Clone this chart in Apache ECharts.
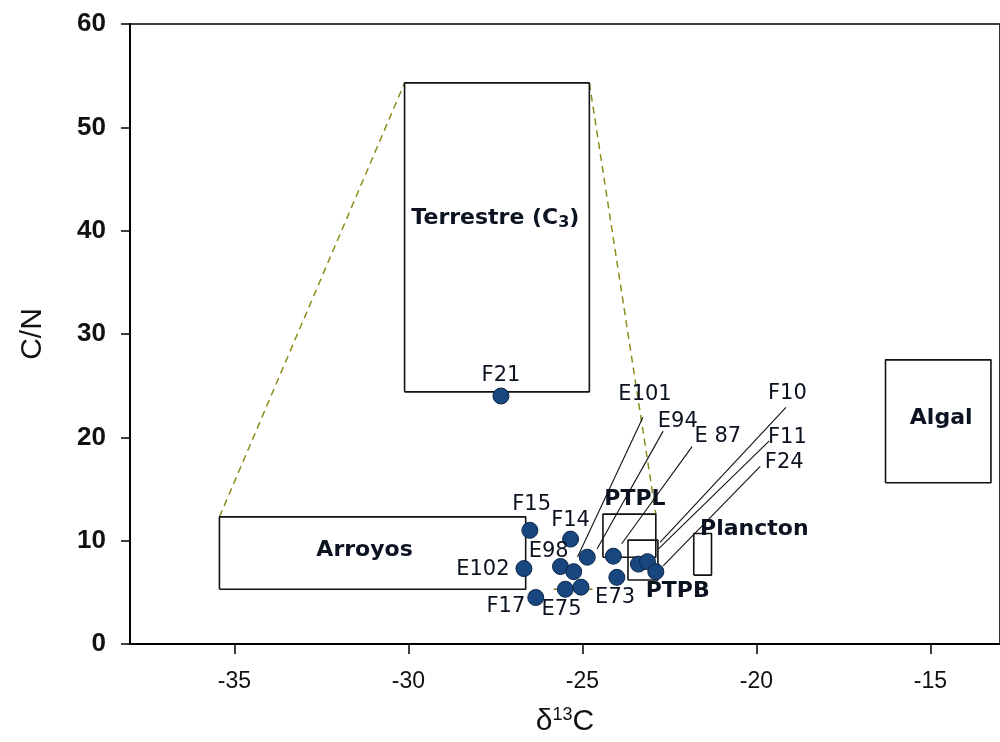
<!DOCTYPE html>
<html lang="en">
<head>
<meta charset="UTF-8">
<title>C/N vs d13C</title>
<script src="https://cdn.jsdelivr.net/npm/echarts@6.0.0/dist/echarts.min.js"></script>
<style>
  html, body { margin: 0; padding: 0; background: #fff; }
</style>
</head>
<body>
<div id="main" style="width:1000px;height:742px;"></div>
<script type="text/javascript">
// sample points (d13C, C/N)
const ptX = [-27.34, -26.51, -25.34, -26.68, -26.34, -25.63, -25.25, -24.86, -25.49, -25.04, -24.11, -24.01, -23.39, -23.13, -22.89];
const ptY = [24.0, 11.0, 10.15, 7.3, 4.5, 7.5, 7.0, 8.4, 5.3, 5.5, 8.5, 6.45, 7.73, 7.97, 7.0];

// sample labels
const lblText = ['F21', 'F15', 'F14', 'E98', 'E102', 'F17', 'E75', 'E73', 'E101', 'E94', 'E 87', 'F10', 'F11', 'F24'];
const lblX = [-27.34, -26.46, -25.34, -25.97, -27.86, -27.2, -25.6, -24.06, -23.2, -22.26, -21.11, -19.11, -19.11, -19.2];
const lblY = [26.0, 13.5, 11.9, 8.9, 7.25, 3.6, 3.3, 4.5, 24.1, 21.5, 20.1, 24.2, 20.0, 17.6];

// leader lines from labels to points
const leadX0 = [-23.26, -22.68, -21.85, -19.15, -19.63, -19.89];
const leadY0 = [21.94, 20.6, 19.1, 22.9, 19.65, 17.2];
const leadX1 = [-25.14, -24.58, -23.87, -22.77, -22.82, -22.68];
const leadY1 = [8.41, 9.2, 9.7, 9.83, 9.18, 7.57];

// source end-member boxes
const boxName = ['Terrestre', 'Arroyos', 'PTPL', 'PTPB', 'Plancton', 'Algal'];
const boxX0 = [-30.11, -35.43, -24.41, -23.69, -21.8, -16.29];
const boxX1 = [-24.8, -26.63, -22.89, -22.83, -21.29, -13.26];
const boxY0 = [24.4, 5.3, 8.4, 6.2, 6.67, 15.6];
const boxY1 = [54.3, 12.3, 12.57, 10.05, 10.7, 27.5];

// box labels
const boxLblText = ['Terrestre (C{sub|3})', 'Arroyos', 'PTPL', 'PTPB', 'Plancton', 'Algal'];
const boxLblX = [-27.5, -31.26, -23.49, -22.26, -20.06, -14.69];
const boxLblY = [41.2, 9.1, 14.0, 5.1, 11.1, 21.8];

// dashed zoom lines
const dashX0 = [-35.43, -24.8];
const dashY0 = [12.3, 54.3];
const dashX1 = [-30.11, -22.89];
const dashY1 = [54.3, 12.57];

const xTicks = [-35, -30, -25, -20, -15];

const chart = echarts.init(document.getElementById('main'));
const series = [];

// boxes
boxName.forEach((n, i) => {
  series.push({
    type: 'line', name: n, silent: true, symbol: 'none', z: 2,
    lineStyle: { color: '#111', width: 1.6 },
    data: [[boxX0[i], boxY0[i]], [boxX1[i], boxY0[i]], [boxX1[i], boxY1[i]], [boxX0[i], boxY1[i]], [boxX0[i], boxY0[i]]]
  });
});

// dashed connectors
dashX0.forEach((x, i) => {
  series.push({
    type: 'line', silent: true, symbol: 'none', z: 1,
    lineStyle: { color: '#8c8c1e', width: 1.5, type: [7, 5] },
    data: [[x, dashY0[i]], [dashX1[i], dashY1[i]]]
  });
});
series.push({
  type: 'line', silent: true, symbol: 'none', z: 1,
  lineStyle: { color: '#7d7d2a', width: 1.6 },
  data: [[-25.83, 5.3], [-24.71, 5.3]]
});

// leader lines
leadX0.forEach((x, i) => {
  series.push({
    type: 'line', silent: true, symbol: 'none', z: 3,
    lineStyle: { color: '#111', width: 1.1 },
    data: [[x, leadY0[i]], [leadX1[i], leadY1[i]]]
  });
});

// points
series.push({
  type: 'scatter', z: 5,
  symbolSize: 16,
  itemStyle: { color: '#18467f', borderColor: '#0c2648', borderWidth: 1, opacity: 1 },
  data: ptX.map((x, i) => [x, ptY[i]])
});

// point labels
series.push({
  type: 'scatter', z: 6, symbolSize: 0, silent: true,
  itemStyle: { opacity: 1 },
  label: {
    show: true, position: 'inside', formatter: p => p.name,
    fontFamily: 'DejaVu Sans', fontSize: 21, color: '#0b1220'
  },
  data: lblText.map((t, i) => ({ name: t, value: [lblX[i], lblY[i]] }))
});

// box labels
series.push({
  type: 'scatter', z: 6, symbolSize: 0, silent: true,
  itemStyle: { opacity: 1 },
  label: {
    show: true, position: 'inside', formatter: p => p.name,
    fontFamily: 'DejaVu Sans', fontWeight: 'bold', fontSize: 22, color: '#0b1220',
    rich: {
      sub: { fontFamily: 'DejaVu Sans', fontWeight: 'bold', fontSize: 16, color: '#0b1220', padding: [10, 0, 0, 0] }
    }
  },
  data: boxLblText.map((t, i) => ({ name: t, value: [boxLblX[i], boxLblY[i]] }))
});

chart.setOption({
  animation: false,
  backgroundColor: '#fff',
  grid: { left: 130, top: 24, width: 881, height: 621, show: true, borderColor: '#000', borderWidth: 1.6 },
  xAxis: {
    type: 'value', min: -38, max: -13,
    name: 'δ{sup|13}C', nameLocation: 'middle', nameGap: 62,
    nameTextStyle: {
      fontFamily: 'Liberation Sans', fontSize: 30, color: '#111',
      rich: { sup: { fontFamily: 'Liberation Sans', fontSize: 18, color: '#111', padding: [0, 0, 14, 0] } }
    },
    splitLine: { show: false },
    axisLine: { onZero: false, lineStyle: { color: '#000', width: 2 } },
    axisTick: { show: true, customValues: xTicks, length: 10, lineStyle: { color: '#000', width: 1.5 } },
    axisLabel: {
      customValues: xTicks, margin: 26,
      fontFamily: 'Liberation Sans', fontSize: 23, color: '#111'
    }
  },
  yAxis: {
    type: 'value', min: 0, max: 60, interval: 10,
    name: 'C/N', nameLocation: 'middle', nameGap: 82, nameRotate: 90,
    nameTextStyle: { fontFamily: 'Liberation Sans', fontSize: 30, color: '#111' },
    splitLine: { show: false },
    axisLine: { lineStyle: { color: '#000', width: 2 } },
    axisTick: { length: 9, lineStyle: { color: '#000', width: 1.5 } },
    axisLabel: { margin: 24, fontFamily: 'Liberation Sans', fontWeight: 'bold', fontSize: 26, color: '#111' }
  },
  series: series
});
</script>
</body>
</html>
